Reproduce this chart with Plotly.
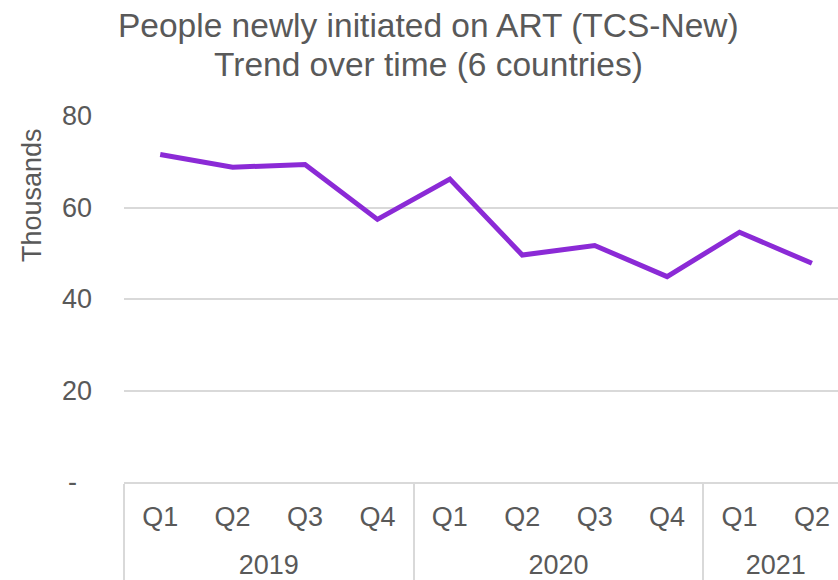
import plotly.graph_objects as go

# Quarterly ART initiations (thousands), six countries
years = ["2019", "2019", "2019", "2019", "2020", "2020", "2020", "2020", "2021", "2021"]
quarters = ["Q1", "Q2", "Q3", "Q4", "Q1", "Q2", "Q3", "Q4", "Q1", "Q2"]
new_on_art = [71.6, 68.8, 69.4, 57.4, 66.2, 49.6, 51.7, 44.9, 54.6, 47.8]

y_ticks = [0, 20, 40, 60, 80]
y_labels = ["-\u00a0\u00a0", "20", "40", "60", "80"]

TEXT = "#595959"
GRID = "#d9d9d9"
FONT = "Liberation Sans, Arial, sans-serif"
TICK_SIZE = 27
TITLE_SIZE = 33.5

# x positions of each quarter, plus year group centres and boundaries
xpos = list(range(len(quarters)))
year_names, year_centres, boundaries = [], [], [-0.5]
start = 0
for i in range(1, len(years) + 1):
    if i == len(years) or years[i] != years[start]:
        year_names.append(years[start])
        year_centres.append((start + i - 1) / 2)
        if i < len(years):
            boundaries.append(i - 0.5)
        start = i

x_range = [-0.5, 9.36]

fig = go.Figure()
fig.add_trace(
    go.Scatter(
        x=xpos,
        y=new_on_art,
        mode="lines",
        line=dict(color="#8B2AD6", width=5),
        hovertemplate="%{text}: %{y}<extra></extra>",
        text=[f"{q} {y}" for q, y in zip(quarters, years)],
    )
)
# empty trace so the year axis gets its own subplot
fig.add_trace(
    go.Scatter(
        x=year_centres,
        y=[None] * len(year_centres),
        xaxis="x2",
        mode="lines",
        hoverinfo="skip",
        showlegend=False,
    )
)

fig.update_layout(
    width=838,
    height=580,
    margin=dict(l=124, r=0, t=116, b=98, autoexpand=False),
    paper_bgcolor="white",
    plot_bgcolor="white",
    showlegend=False,
    font=dict(family=FONT, color=TEXT, size=TICK_SIZE),
    annotations=[
        dict(
            text="People newly initiated on ART (TCS-New)",
            xref="paper", yref="paper", x=0.4258, y=1.2478,
            xanchor="center", yanchor="middle", showarrow=False,
            font=dict(family=FONT, color=TEXT, size=TITLE_SIZE),
        ),
        dict(
            text="Trend over time (6 countries)",
            xref="paper", yref="paper", x=0.4258, y=1.1404,
            xanchor="center", yanchor="middle", showarrow=False,
            font=dict(family=FONT, color=TEXT, size=TITLE_SIZE),
        ),
        dict(
            text="Thousands",
            xref="paper", yref="paper", x=-0.1289, y=0.784,
            xanchor="center", yanchor="middle", textangle=-90,
            showarrow=False,
            font=dict(family=FONT, color=TEXT, size=TICK_SIZE),
        ),
    ],
    xaxis=dict(
        range=x_range,
        automargin=False,
        tickmode="array",
        tickvals=xpos,
        ticktext=quarters,
        showline=True,
        linecolor=GRID,
        linewidth=1.5,
        showgrid=False,
        zeroline=False,
        ticks="",
        ticklabelstandoff=10,
        tickfont=dict(family=FONT, color=TEXT, size=TICK_SIZE),
        minor=dict(
            tickmode="array",
            tickvals=boundaries,
            ticks="outside",
            ticklen=98,
            tickcolor=GRID,
            tickwidth=1.5,
            showgrid=False,
        ),
    ),
    # year labels on a second axis sharing the same scale
    xaxis2=dict(
        overlaying="x",
        anchor="y",
        side="bottom",
        range=x_range,
        automargin=False,
        tickmode="array",
        tickvals=year_centres,
        ticktext=year_names,
        ticks="",
        showgrid=False,
        showline=False,
        zeroline=False,
        ticklabelstandoff=64,
        tickfont=dict(family=FONT, color=TEXT, size=TICK_SIZE),
    ),
    yaxis=dict(
        range=[0, 80],
        automargin=False,
        tickmode="array",
        tickvals=y_ticks,
        ticktext=y_labels,
        showgrid=True,
        gridcolor=GRID,
        gridwidth=1.5,
        zeroline=False,
        showline=False,
        ticks="",
        ticklabelstandoff=31,
        tickfont=dict(family=FONT, color=TEXT, size=TICK_SIZE),
    ),
)

fig.write_html("out.html")
